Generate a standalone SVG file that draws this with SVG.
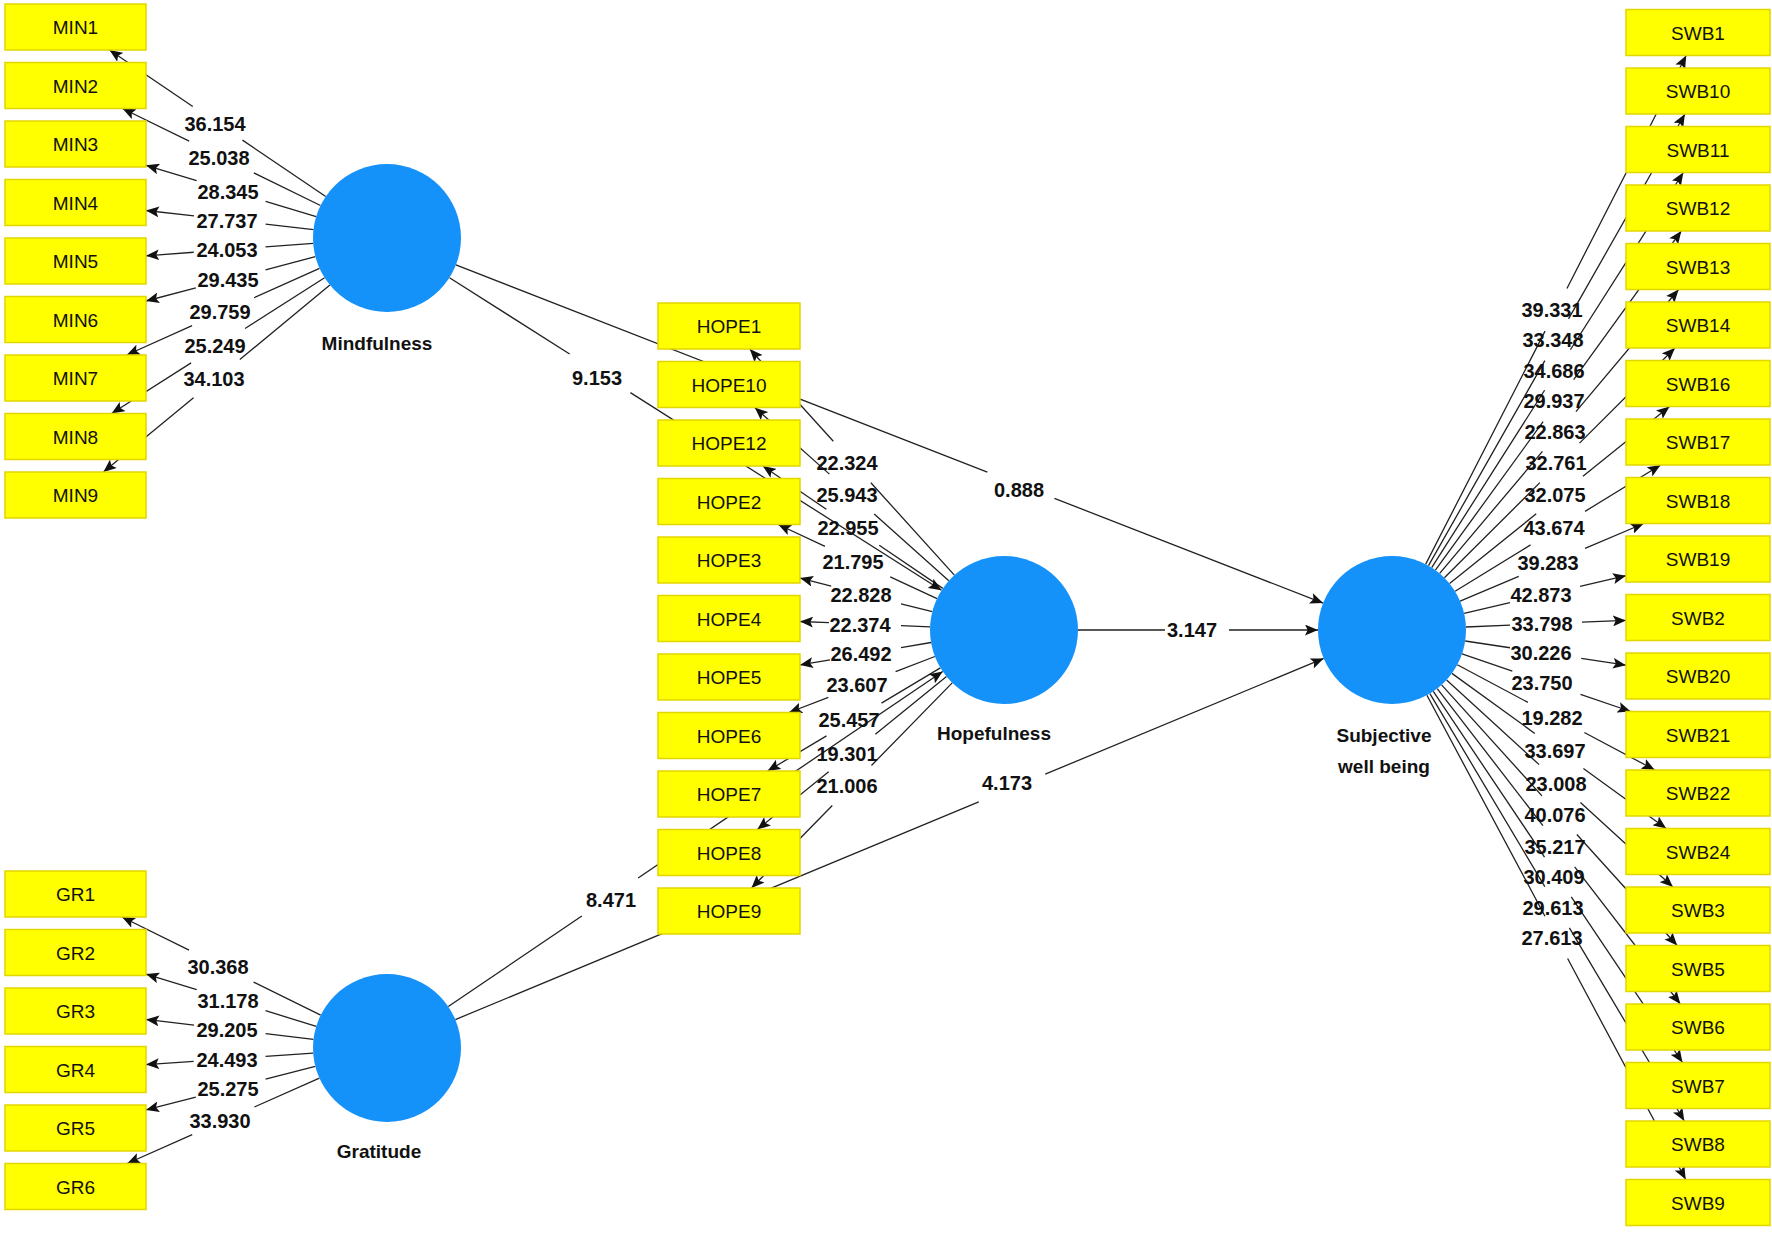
<svg xmlns="http://www.w3.org/2000/svg" width="1772" height="1233" viewBox="0 0 1772 1233">
<style>
.c{fill:#1591FA}
.b{fill:#FFFF00;stroke:#E2D600;stroke-width:1.5}
.bt{font-family:"Liberation Sans",Arial,sans-serif;font-size:19px;fill:#111;text-anchor:middle}
.lb{font-family:"Liberation Sans",Arial,sans-serif;font-size:20px;font-weight:bold;fill:#111;text-anchor:middle}
.cl{font-family:"Liberation Sans",Arial,sans-serif;font-size:19px;font-weight:bold;fill:#111;text-anchor:middle}
#connectors line{stroke:#222;stroke-width:1.3;fill:none}
#connectors line.e{marker-end:url(#ar)}
#connectors line.h24{stroke-dasharray:0 24 3000}
#connectors line.h26{stroke-dasharray:0 26 3000}
#connectors line.h28{stroke-dasharray:0 28 3000}
#connectors line.h30{stroke-dasharray:0 30 3000}
#connectors line.h32{stroke-dasharray:0 32 3000}
#connectors line.h34{stroke-dasharray:0 34 3000}
#connectors line.h36{stroke-dasharray:0 36 3000}
</style>
<defs>
<marker id="ar" viewBox="0 0 12 10" refX="12" refY="5" markerWidth="13" markerHeight="11" markerUnits="userSpaceOnUse" orient="auto"><path d="M0,0 L12,5 L0,10 L2.5,5 z" fill="#111"/></marker>
</defs>
<rect x="0" y="0" width="1772" height="1233" fill="#fff"/>
<g id="connectors">
<!-- Mindfulness loadings -->
<line class="h30" x1="217.6" y1="123.3" x2="325.7" y2="196.5"/><line class="h30 e" x1="217.6" y1="123.3" x2="109.5" y2="50"/>
<line class="h36" x1="221.5" y1="157" x2="320.5" y2="205.5"/><line class="h36 e" x1="221.5" y1="157" x2="122.5" y2="108.5"/>
<line class="h36" x1="231.1" y1="191" x2="316.2" y2="216.6"/><line class="h36 e" x1="231.1" y1="191" x2="146" y2="165.3"/>
<line class="h36" x1="229.8" y1="220" x2="313.5" y2="229.6"/><line class="h36 e" x1="229.8" y1="220" x2="146" y2="210.5"/>
<line class="h36" x1="229.6" y1="249.6" x2="313.2" y2="243.4"/><line class="h36 e" x1="229.6" y1="249.6" x2="146" y2="255.8"/>
<line class="h36" x1="230.7" y1="278.9" x2="315.4" y2="256.7"/><line class="h36 e" x1="230.7" y1="278.9" x2="146" y2="301"/>
<line class="h34" x1="223.1" y1="311.7" x2="319.5" y2="268.3"/><line class="h34 e" x1="223.1" y1="311.7" x2="126.7" y2="355"/>
<line class="h32" x1="218.1" y1="345.7" x2="324.6" y2="277.8"/><line class="h32 e" x1="218.1" y1="345.7" x2="111.6" y2="413.5"/>
<line class="h30" x1="216.7" y1="378.6" x2="329.9" y2="285.1"/><line class="h30 e" x1="216.7" y1="378.6" x2="103.4" y2="472"/>
<!-- Gratitude loadings -->
<line class="h36" x1="221.3" y1="966.1" x2="320.7" y2="1015.2"/><line class="h36 e" x1="221.3" y1="966.1" x2="122" y2="917"/>
<line class="h36" x1="231.1" y1="1000.2" x2="316.3" y2="1026.3"/><line class="h36 e" x1="231.1" y1="1000.2" x2="146" y2="974.1"/>
<line class="h36" x1="229.8" y1="1029.3" x2="313.5" y2="1039.3"/><line class="h36 e" x1="229.8" y1="1029.3" x2="146" y2="1019.4"/>
<line class="h36" x1="229.6" y1="1058.9" x2="313.2" y2="1053.1"/><line class="h36 e" x1="229.6" y1="1058.9" x2="146" y2="1064.6"/>
<line class="h36" x1="230.7" y1="1088.2" x2="315.3" y2="1066.4"/><line class="h36 e" x1="230.7" y1="1088.2" x2="146" y2="1109.9"/>
<line class="h34" x1="223.3" y1="1120.8" x2="319.4" y2="1078.1"/><line class="h34 e" x1="223.3" y1="1120.8" x2="127.2" y2="1163.5"/>
<!-- Hopefulness loadings -->
<line class="h28" x1="852.1" y1="462" x2="954.4" y2="575.1"/><line class="h28 e" x1="852.1" y1="462" x2="749.8" y2="349"/>
<line class="h30" x1="851.8" y1="494.1" x2="948.8" y2="580.7"/><line class="h30 e" x1="851.8" y1="494.1" x2="754.8" y2="407.5"/>
<line class="h32" x1="852.8" y1="527.2" x2="942.8" y2="588.4"/><line class="h32 e" x1="852.8" y1="527.2" x2="762.8" y2="466"/>
<line class="h36" x1="857.6" y1="561.6" x2="937" y2="598.7"/><line class="h36 e" x1="857.6" y1="561.6" x2="778.2" y2="524.5"/>
<line class="h36" x1="866.1" y1="594.9" x2="932.3" y2="611.7"/><line class="h36 e" x1="866.1" y1="594.9" x2="800" y2="578.1"/>
<line class="h36" x1="865" y1="624.2" x2="930.1" y2="626.9"/><line class="h36 e" x1="865" y1="624.2" x2="800" y2="621.5"/>
<line class="h36" x1="865.5" y1="653.7" x2="931.1" y2="642.5"/><line class="h36 e" x1="865.5" y1="653.7" x2="800" y2="664.9"/>
<line class="h36" x1="862" y1="684.5" x2="934.9" y2="656.5"/><line class="h36 e" x1="862" y1="684.5" x2="789" y2="712.5"/>
<line class="h32" x1="854" y1="719.5" x2="940.4" y2="667.9"/><line class="h32 e" x1="854" y1="719.5" x2="767.6" y2="771"/>
<line class="h30" x1="852" y1="753" x2="946.5" y2="676.6"/><line class="h30 e" x1="852" y1="753" x2="757.4" y2="829.5"/>
<line class="h28" x1="851.9" y1="785.5" x2="952.2" y2="682.9"/><line class="h28 e" x1="851.9" y1="785.5" x2="751.5" y2="888"/>
<!-- Subjective well being loadings -->
<line class="h24" x1="1556" y1="309.8" x2="1425.7" y2="564.1"/><line class="h24 e" x1="1556" y1="309.8" x2="1686.2" y2="55.5"/>
<line class="h24" x1="1556.7" y1="339.8" x2="1428.5" y2="565.6"/><line class="h24 e" x1="1556.7" y1="339.8" x2="1684.9" y2="114"/>
<line class="h24" x1="1557.5" y1="370" x2="1431.7" y2="567.6"/><line class="h24 e" x1="1557.5" y1="370" x2="1683.3" y2="172.5"/>
<line class="h26" x1="1558.4" y1="400.6" x2="1435.4" y2="570.1"/><line class="h26 e" x1="1558.4" y1="400.6" x2="1681.3" y2="231"/>
<line class="h26" x1="1559.2" y1="431.5" x2="1439.7" y2="573.4"/><line class="h26 e" x1="1559.2" y1="431.5" x2="1678.6" y2="289.5"/>
<line class="h28" x1="1559.7" y1="462.9" x2="1444.4" y2="577.8"/><line class="h28 e" x1="1559.7" y1="462.9" x2="1674.9" y2="348"/>
<line class="h30" x1="1559.6" y1="495" x2="1449.6" y2="583.6"/><line class="h30 e" x1="1559.6" y1="495" x2="1669.5" y2="406.5"/>
<line class="h32" x1="1557.8" y1="528.1" x2="1455.1" y2="591.3"/><line class="h32 e" x1="1557.8" y1="528.1" x2="1660.6" y2="465"/>
<line class="h36" x1="1551.9" y1="562.4" x2="1460.1" y2="601.2"/><line class="h36 e" x1="1551.9" y1="562.4" x2="1643.7" y2="523.5"/>
<line class="h36" x1="1545" y1="594.5" x2="1464.1" y2="613.3"/><line class="h36 e" x1="1545" y1="594.5" x2="1626" y2="575.7"/>
<line class="h36" x1="1546" y1="623.7" x2="1465.9" y2="627"/><line class="h36 e" x1="1546" y1="623.7" x2="1626" y2="620.4"/>
<line class="h36" x1="1545.6" y1="653.1" x2="1465.2" y2="641"/><line class="h36 e" x1="1545.6" y1="653.1" x2="1626" y2="665.2"/>
<line class="h36" x1="1546.4" y1="682.7" x2="1462" y2="653.9"/><line class="h36 e" x1="1546.4" y1="682.7" x2="1630.7" y2="711.5"/>
<line class="h32" x1="1556.1" y1="717.4" x2="1457.3" y2="664.8"/><line class="h32 e" x1="1556.1" y1="717.4" x2="1654.8" y2="770"/>
<line class="h30" x1="1559.1" y1="751" x2="1451.9" y2="673.4"/><line class="h30 e" x1="1559.1" y1="751" x2="1666.2" y2="828.5"/>
<line class="h28" x1="1559.8" y1="783.5" x2="1446.6" y2="680"/><line class="h28 e" x1="1559.8" y1="783.5" x2="1672.9" y2="887"/>
<line class="h26" x1="1559.4" y1="815.2" x2="1441.6" y2="684.9"/><line class="h26 e" x1="1559.4" y1="815.2" x2="1677.2" y2="945.5"/>
<line class="h26" x1="1558.8" y1="846.3" x2="1437.2" y2="688.6"/><line class="h26 e" x1="1558.8" y1="846.3" x2="1680.3" y2="1004"/>
<line class="h24" x1="1557.9" y1="877" x2="1433.3" y2="691.4"/><line class="h24 e" x1="1557.9" y1="877" x2="1682.5" y2="1062.5"/>
<line class="h24" x1="1557.1" y1="907.3" x2="1429.9" y2="693.6"/><line class="h24 e" x1="1557.1" y1="907.3" x2="1684.3" y2="1121"/>
<line class="h24" x1="1556.3" y1="937.4" x2="1426.9" y2="695.3"/><line class="h24 e" x1="1556.3" y1="937.4" x2="1685.7" y2="1179.5"/>
<!-- Structural paths -->
<line class="h36" x1="600" y1="373.3" x2="449.5" y2="277.7"/><line class="h36 e" x1="600" y1="373.3" x2="941.5" y2="590.3"/>
<line class="h36" x1="1020.9" y1="485.3" x2="455.9" y2="264.9"/><line class="h36 e" x1="1020.9" y1="485.3" x2="1323.1" y2="603.1"/>
<line class="h32" x1="1197" y1="630" x2="1078" y2="630"/><line class="h32 e" x1="1197" y1="630" x2="1318" y2="630"/>
<line class="h36" x1="1012" y1="788" x2="455.3" y2="1019.6"/><line class="h36 e" x1="1012" y1="788" x2="1323.7" y2="658.4"/>
<line class="h34" x1="610" y1="897" x2="448.3" y2="1006.5"/><line class="h34 e" x1="610" y1="897" x2="942.7" y2="671.5"/>
<!-- Labels -->
<g class="lb">
<text x="215" y="131">36.154</text>
<text x="219" y="165">25.038</text>
<text x="228" y="199">28.345</text>
<text x="227" y="228">27.737</text>
<text x="227" y="257">24.053</text>
<text x="228" y="287">29.435</text>
<text x="220" y="319">29.759</text>
<text x="215" y="353">25.249</text>
<text x="214" y="386">34.103</text>
<text x="218" y="974">30.368</text>
<text x="228" y="1008">31.178</text>
<text x="227" y="1037">29.205</text>
<text x="227" y="1067">24.493</text>
<text x="228" y="1096">25.275</text>
<text x="220" y="1128">33.930</text>
<text x="847" y="470">22.324</text>
<text x="847" y="502">25.943</text>
<text x="848" y="535">22.955</text>
<text x="853" y="569">21.795</text>
<text x="861" y="602">22.828</text>
<text x="860" y="632">22.374</text>
<text x="861" y="661">26.492</text>
<text x="857" y="692">23.607</text>
<text x="849" y="727">25.457</text>
<text x="847" y="761">19.301</text>
<text x="847" y="793">21.006</text>
<text x="1552" y="317">39.331</text>
<text x="1553" y="347">33.348</text>
<text x="1554" y="378">34.686</text>
<text x="1554" y="408">29.937</text>
<text x="1555" y="439">22.863</text>
<text x="1556" y="470">32.761</text>
<text x="1555" y="502">32.075</text>
<text x="1554" y="535">43.674</text>
<text x="1548" y="570">39.283</text>
<text x="1541" y="602">42.873</text>
<text x="1542" y="631">33.798</text>
<text x="1541" y="660">30.226</text>
<text x="1542" y="690">23.750</text>
<text x="1552" y="725">19.282</text>
<text x="1555" y="758">33.697</text>
<text x="1556" y="791">23.008</text>
<text x="1555" y="822">40.076</text>
<text x="1555" y="854">35.217</text>
<text x="1554" y="884">30.409</text>
<text x="1553" y="915">29.613</text>
<text x="1552" y="945">27.613</text>
<text x="597" y="385">9.153</text>
<text x="1019" y="497">0.888</text>
<text x="1192" y="637">3.147</text>
<text x="1007" y="790">4.173</text>
<text x="611" y="907">8.471</text>
</g>
</g>
<!-- Constructs -->
<g id="Mindfulness"><circle class="c" cx="387" cy="238" r="74"/><text class="cl" x="377" y="350">Mindfulness</text></g>
<g id="Gratitude"><circle class="c" cx="387" cy="1048" r="74"/><text class="cl" x="379" y="1158">Gratitude</text></g>
<g id="Hopefulness"><circle class="c" cx="1004" cy="630" r="74"/><text class="cl" x="994" y="740">Hopefulness</text></g>
<g id="SWB"><circle class="c" cx="1392" cy="630" r="74"/><text class="cl" x="1384" y="742">Subjective</text><text class="cl" x="1384" y="773">well being</text></g>
<!-- Indicators -->
<g id="MIN1"><rect class="b" x="5" y="4" width="141" height="46"/><text class="bt" x="75.5" y="34">MIN1</text></g>
<g id="MIN2"><rect class="b" x="5" y="62.5" width="141" height="46"/><text class="bt" x="75.5" y="92.5">MIN2</text></g>
<g id="MIN3"><rect class="b" x="5" y="121" width="141" height="46"/><text class="bt" x="75.5" y="151">MIN3</text></g>
<g id="MIN4"><rect class="b" x="5" y="179.5" width="141" height="46"/><text class="bt" x="75.5" y="209.5">MIN4</text></g>
<g id="MIN5"><rect class="b" x="5" y="238" width="141" height="46"/><text class="bt" x="75.5" y="268">MIN5</text></g>
<g id="MIN6"><rect class="b" x="5" y="296.5" width="141" height="46"/><text class="bt" x="75.5" y="326.5">MIN6</text></g>
<g id="MIN7"><rect class="b" x="5" y="355" width="141" height="46"/><text class="bt" x="75.5" y="385">MIN7</text></g>
<g id="MIN8"><rect class="b" x="5" y="413.5" width="141" height="46"/><text class="bt" x="75.5" y="443.5">MIN8</text></g>
<g id="MIN9"><rect class="b" x="5" y="472" width="141" height="46"/><text class="bt" x="75.5" y="502">MIN9</text></g>
<g id="GR1"><rect class="b" x="5" y="871" width="141" height="46"/><text class="bt" x="75.5" y="901">GR1</text></g>
<g id="GR2"><rect class="b" x="5" y="929.5" width="141" height="46"/><text class="bt" x="75.5" y="959.5">GR2</text></g>
<g id="GR3"><rect class="b" x="5" y="988" width="141" height="46"/><text class="bt" x="75.5" y="1018">GR3</text></g>
<g id="GR4"><rect class="b" x="5" y="1046.5" width="141" height="46"/><text class="bt" x="75.5" y="1076.5">GR4</text></g>
<g id="GR5"><rect class="b" x="5" y="1105" width="141" height="46"/><text class="bt" x="75.5" y="1135">GR5</text></g>
<g id="GR6"><rect class="b" x="5" y="1163.5" width="141" height="46"/><text class="bt" x="75.5" y="1193.5">GR6</text></g>
<g id="HOPE1"><rect class="b" x="658" y="303" width="142" height="46"/><text class="bt" x="729" y="333">HOPE1</text></g>
<g id="HOPE10"><rect class="b" x="658" y="361.5" width="142" height="46"/><text class="bt" x="729" y="391.5">HOPE10</text></g>
<g id="HOPE12"><rect class="b" x="658" y="420" width="142" height="46"/><text class="bt" x="729" y="450">HOPE12</text></g>
<g id="HOPE2"><rect class="b" x="658" y="478.5" width="142" height="46"/><text class="bt" x="729" y="508.5">HOPE2</text></g>
<g id="HOPE3"><rect class="b" x="658" y="537" width="142" height="46"/><text class="bt" x="729" y="567">HOPE3</text></g>
<g id="HOPE4"><rect class="b" x="658" y="595.5" width="142" height="46"/><text class="bt" x="729" y="625.5">HOPE4</text></g>
<g id="HOPE5"><rect class="b" x="658" y="654" width="142" height="46"/><text class="bt" x="729" y="684">HOPE5</text></g>
<g id="HOPE6"><rect class="b" x="658" y="712.5" width="142" height="46"/><text class="bt" x="729" y="742.5">HOPE6</text></g>
<g id="HOPE7"><rect class="b" x="658" y="771" width="142" height="46"/><text class="bt" x="729" y="801">HOPE7</text></g>
<g id="HOPE8"><rect class="b" x="658" y="829.5" width="142" height="46"/><text class="bt" x="729" y="859.5">HOPE8</text></g>
<g id="HOPE9"><rect class="b" x="658" y="888" width="142" height="46"/><text class="bt" x="729" y="918">HOPE9</text></g>
<g id="SWB1"><rect class="b" x="1626" y="9.5" width="144" height="46"/><text class="bt" x="1698" y="39.5">SWB1</text></g>
<g id="SWB10"><rect class="b" x="1626" y="68" width="144" height="46"/><text class="bt" x="1698" y="98">SWB10</text></g>
<g id="SWB11"><rect class="b" x="1626" y="126.5" width="144" height="46"/><text class="bt" x="1698" y="156.5">SWB11</text></g>
<g id="SWB12"><rect class="b" x="1626" y="185" width="144" height="46"/><text class="bt" x="1698" y="215">SWB12</text></g>
<g id="SWB13"><rect class="b" x="1626" y="243.5" width="144" height="46"/><text class="bt" x="1698" y="273.5">SWB13</text></g>
<g id="SWB14"><rect class="b" x="1626" y="302" width="144" height="46"/><text class="bt" x="1698" y="332">SWB14</text></g>
<g id="SWB16"><rect class="b" x="1626" y="360.5" width="144" height="46"/><text class="bt" x="1698" y="390.5">SWB16</text></g>
<g id="SWB17"><rect class="b" x="1626" y="419" width="144" height="46"/><text class="bt" x="1698" y="449">SWB17</text></g>
<g id="SWB18"><rect class="b" x="1626" y="477.5" width="144" height="46"/><text class="bt" x="1698" y="507.5">SWB18</text></g>
<g id="SWB19"><rect class="b" x="1626" y="536" width="144" height="46"/><text class="bt" x="1698" y="566">SWB19</text></g>
<g id="SWB2"><rect class="b" x="1626" y="594.5" width="144" height="46"/><text class="bt" x="1698" y="624.5">SWB2</text></g>
<g id="SWB20"><rect class="b" x="1626" y="653" width="144" height="46"/><text class="bt" x="1698" y="683">SWB20</text></g>
<g id="SWB21"><rect class="b" x="1626" y="711.5" width="144" height="46"/><text class="bt" x="1698" y="741.5">SWB21</text></g>
<g id="SWB22"><rect class="b" x="1626" y="770" width="144" height="46"/><text class="bt" x="1698" y="800">SWB22</text></g>
<g id="SWB24"><rect class="b" x="1626" y="828.5" width="144" height="46"/><text class="bt" x="1698" y="858.5">SWB24</text></g>
<g id="SWB3"><rect class="b" x="1626" y="887" width="144" height="46"/><text class="bt" x="1698" y="917">SWB3</text></g>
<g id="SWB5"><rect class="b" x="1626" y="945.5" width="144" height="46"/><text class="bt" x="1698" y="975.5">SWB5</text></g>
<g id="SWB6"><rect class="b" x="1626" y="1004" width="144" height="46"/><text class="bt" x="1698" y="1034">SWB6</text></g>
<g id="SWB7"><rect class="b" x="1626" y="1062.5" width="144" height="46"/><text class="bt" x="1698" y="1092.5">SWB7</text></g>
<g id="SWB8"><rect class="b" x="1626" y="1121" width="144" height="46"/><text class="bt" x="1698" y="1151">SWB8</text></g>
<g id="SWB9"><rect class="b" x="1626" y="1179.5" width="144" height="46"/><text class="bt" x="1698" y="1209.5">SWB9</text></g>
</svg>
